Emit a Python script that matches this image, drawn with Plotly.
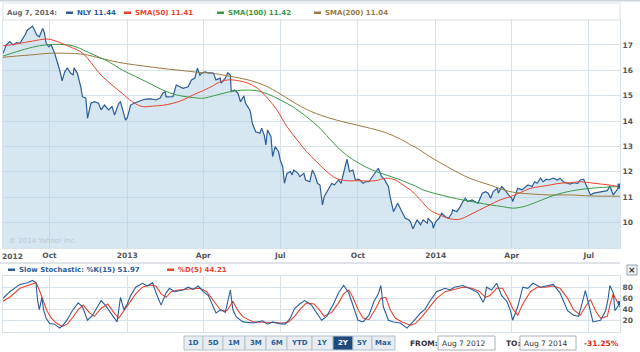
import plotly.graph_objects as go
import pandas as pd

START = pd.Timestamp("2012-08-07")

# ---- NLY close (days since Aug 7 2012, value) ----
nly_days = [0,4,8,12,16,20,26,29,35,40,43,47,49,51,54,57,61,65,67,70,73,76,80,83,84,88,92,94,98,100,
            104,108,113,116,120,125,129,132,137,139,142,145,147,151,155,159,165,169,175,181,186,189,192,193,197,201,205,209,213,219,
            223,227,230,233,235,239,243,247,249,252,257,258,263,266,269,270,274,278,281,285,287,292,293,295,299,304,306,309,311,313,
            317,319,322,326,328,331,333,336,340,342,344,349,351,356,358,363,366,369,372,375,378,380,385,389,392,397,400,403,407,410,
            414,417,421,426,429,433,437,441,444,448,451,456,458,462,467,472,476,480,482,485,490,494,497,502,503,508,509,512,516,519,
            523,527,531,532,537,541,544,547,550,555,559,562,567,571,574,577,580,585,586,590,594,598,602,603,607,609,614,618,621,626,
            629,632,636,639,643,646,651,656,659,663,668,671,675,680,683,687,689,692,695,699,703,707,710,715,718,722,724,727,730]
nly_close = [16.67,17.0,17.13,17.0,17.09,17.06,17.39,17.59,17.74,17.39,17.32,17.65,17.47,17.07,16.93,17.0,16.68,16.29,16.01,15.58,
             15.94,16.09,15.89,15.81,16.1,15.88,15.35,14.96,14.9,14.11,14.7,14.76,14.7,14.44,14.63,14.44,14.57,14.24,14.7,14.76,
             14.37,14.04,14.12,14.63,14.7,14.76,14.83,14.86,14.87,14.83,14.91,15.1,15.16,14.95,14.96,14.96,15.42,15.35,15.29,15.35,
             15.62,15.69,16.08,15.81,15.88,15.94,15.9,15.9,15.88,15.62,15.69,15.49,15.69,15.9,15.81,15.16,15.22,15.09,14.76,14.99,
             14.7,14.44,14.31,13.91,13.58,13.52,13.72,13.45,13.06,13.65,13.39,12.6,12.99,12.8,12.47,12.2,11.55,11.94,12.01,11.88,
             12.07,11.94,11.81,11.94,11.68,11.61,12.07,11.88,11.55,11.48,10.7,11.02,11.29,11.55,11.48,11.68,11.55,11.94,12.5,12.01,
             12.07,11.68,11.71,11.55,11.61,11.61,11.81,12.01,12.14,11.81,11.71,11.42,11.02,10.43,10.76,10.43,10.17,10.11,10.04,9.76,
             10.11,9.91,10.11,9.98,10.17,9.98,9.78,10.04,10.17,10.37,10.24,10.17,10.37,10.5,10.43,10.63,10.83,10.96,10.83,10.89,
             10.83,10.76,11.16,11.22,11.16,10.96,11.22,11.35,11.16,11.42,11.29,11.09,10.96,10.83,11.16,11.35,11.29,11.42,11.48,11.42,
             11.61,11.55,11.75,11.61,11.71,11.68,11.75,11.68,11.75,11.61,11.55,11.52,11.57,11.55,11.68,11.71,11.55,11.29,11.09,11.16,
             11.18,11.22,11.22,11.26,11.44,11.09,11.18,11.29,11.44]

# ---- Moving averages ----
sma50_days = [0,16,35,51,59,71,83,92,100,108,116,129,141,153,165,177,189,201,213,225,237,249,255,266,278,290,301,313,324,336,
              348,359,371,383,394,406,418,430,441,453,464,476,482,494,505,517,529,540,552,564,576,588,600,612,624,636,647,659,671,683,
              695,707,718,730]
sma50 = [16.96,17.04,17.15,17.23,17.19,17.04,16.87,16.73,16.47,16.14,15.81,15.42,15.09,14.76,14.57,14.59,14.62,14.7,14.83,15.03,
         15.2,15.4,15.52,15.62,15.59,15.49,15.29,14.9,14.44,13.78,13.26,12.8,12.4,12.01,11.75,11.65,11.65,11.64,11.65,11.75,
         11.68,11.42,11.29,10.89,10.5,10.3,10.15,10.13,10.3,10.5,10.7,10.89,11.02,11.18,11.35,11.42,11.48,11.55,11.57,11.61,
         11.57,11.52,11.48,11.41]

sma100_days = [0,16,35,51,67,83,95,108,125,141,157,173,189,205,221,237,243,258,274,290,301,313,328,344,359,375,391,406,421,437,
               453,468,482,488,497,513,529,544,561,576,591,603,616,633,647,663,680,695,710,730]
sma100 = [16.56,16.73,16.91,17.0,17.02,16.96,16.8,16.6,16.34,16.01,15.75,15.49,15.22,15.03,14.94,14.9,14.94,15.07,15.19,15.22,
          15.19,15.07,14.83,14.54,14.17,13.72,13.13,12.67,12.34,12.07,11.88,11.71,11.52,11.44,11.29,11.13,11.0,10.89,10.79,10.7,
          10.63,10.57,10.63,10.83,11.02,11.18,11.29,11.35,11.39,11.42]

sma200_days = [0,16,35,55,75,95,116,137,157,177,197,217,237,243,266,290,313,336,359,383,406,429,453,476,482,488,505,529,552,576,
               600,624,647,671,695,730]
sma200 = [16.51,16.56,16.61,16.67,16.67,16.63,16.47,16.31,16.21,16.12,16.04,15.97,15.9,15.9,15.78,15.62,15.35,14.9,14.46,14.15,
          13.94,13.76,13.54,13.19,13.06,12.97,12.6,12.14,11.75,11.48,11.22,11.13,11.09,11.09,11.05,11.04]

# ---- Slow stochastic ----
k_days = [0,8,20,29,35,39,41,43,46,48,51,55,61,67,71,76,82,89,94,100,106,116,121,129,135,139,143,147,151,157,
          165,171,177,181,187,193,197,203,213,219,225,231,237,243,249,252,258,263,269,272,276,284,296,307,313,319,327,334,340,345,
          351,357,365,373,377,383,391,397,403,409,416,420,426,433,439,444,447,450,456,462,470,478,485,494,499,505,513,523,529,534,
          544,552,562,568,570,572,578,584,590,596,600,603,609,615,621,627,636,644,651,659,668,675,681,687,689,693,698,707,713,716,
          718,722,724,727,730]
k_vals = [60,72,85,88,92,88,55,40,62,40,25,15,14,7,12,22,38,52,45,21,30,56,48,30,18,62,40,50,65,80,
          87,82,88,70,48,70,78,72,75,80,76,82,72,65,45,34,40,35,75,40,27,18,16,20,14,18,15,14,25,42,
          50,56,48,30,21,28,50,70,83,70,38,21,18,30,55,68,83,45,21,18,16,7,18,34,40,55,72,78,75,80,
          83,78,70,53,60,80,75,87,65,55,40,21,45,80,78,87,80,82,85,70,38,30,28,62,74,50,18,21,38,60,
          83,70,38,45,51.97]

d_days = [0,8,20,32,39,43,48,52,57,63,70,76,82,89,95,102,108,116,124,131,137,143,149,157,165,173,181,187,193,199,
          207,217,225,233,241,246,252,258,265,272,278,284,296,307,319,330,338,345,351,359,368,375,380,389,397,403,409,414,420,426,
          433,441,447,453,458,464,472,482,488,496,505,513,523,535,544,555,564,571,576,584,591,597,603,609,615,624,632,642,651,659,
          668,675,683,689,695,701,707,715,718,722,726,730]
d_vals = [55,62,78,85,88,75,55,38,25,16,10,14,25,40,48,35,28,42,50,35,25,38,50,68,80,84,82,68,62,72,
          75,76,78,78,72,62,48,38,38,55,38,27,18,18,17,16,18,28,40,52,50,38,28,35,52,68,75,62,40,25,
          22,42,60,62,40,25,18,12,15,28,45,60,72,76,80,78,72,62,65,78,78,62,42,30,50,72,80,80,82,78,
          60,40,30,45,58,38,25,28,48,68,55,44.21]

# x-axis month ticks
tick_dates = ["2012-10-01","2013-01-01","2013-04-01","2013-07-01","2013-10-01","2014-01-01","2014-04-01","2014-07-01"]
tick_text = ["Oct","2013","Apr","Jul","Oct","2014","Apr","Jul"]

def to_dates(days):
    return [START + pd.Timedelta(days=int(d)) for d in days]

W, H = 640, 352
def px(x): return x / W
def py(y): return 1 - y / H

FONT = "DejaVu Sans"
BLUE = "#2b5d98"; RED = "#e8452f"; GREEN = "#3a9a48"; BROWN = "#9c7a40"
GRID = "#d8e2ea"

fig = go.Figure()
nd = to_dates(nly_days)
fig.add_trace(go.Scatter(x=nd, y=nly_close, mode="lines", line=dict(color=BLUE, width=1.2),
                         fill="tozeroy", fillcolor="rgba(175,207,230,0.5)", xaxis="x", yaxis="y"))
fig.add_trace(go.Scatter(x=to_dates(sma200_days), y=sma200, mode="lines", line=dict(color=BROWN, width=1, shape="spline"), xaxis="x", yaxis="y"))
fig.add_trace(go.Scatter(x=to_dates(sma100_days), y=sma100, mode="lines", line=dict(color=GREEN, width=1, shape="spline"), xaxis="x", yaxis="y"))
fig.add_trace(go.Scatter(x=to_dates(sma50_days), y=sma50, mode="lines", line=dict(color=RED, width=1, shape="spline"), xaxis="x", yaxis="y"))
fig.add_trace(go.Scatter(x=[nd[-1]], y=[nly_close[-1]], mode="markers", marker=dict(color=BLUE, size=5, symbol="square"), xaxis="x", yaxis="y"))

kd = to_dates(k_days)
fig.add_trace(go.Scatter(x=to_dates(d_days), y=d_vals, mode="lines", line=dict(color=RED, width=1.1), xaxis="x2", yaxis="y2"))
fig.add_trace(go.Scatter(x=kd, y=k_vals, mode="lines", line=dict(color=BLUE, width=1.1), xaxis="x2", yaxis="y2"))
fig.add_trace(go.Scatter(x=[kd[-1]], y=[k_vals[-1]], mode="markers", marker=dict(color=BLUE, size=4, symbol="square"), xaxis="x2", yaxis="y2"))

xr = ["2012-08-07", "2014-08-07"]
common_x = dict(range=xr, type="date", tickvals=tick_dates, showgrid=True, gridcolor=GRID, gridwidth=1,
                showline=True, linecolor=GRID, mirror=True, zeroline=False, ticks="", automargin=False,
                domain=[px(3), px(620)])
tf = dict(family=FONT, size=7.5, color="#555", weight="bold")
fig.update_layout(
    width=W, height=H, margin=dict(l=0, r=0, t=0, b=0), showlegend=False,
    paper_bgcolor="white", plot_bgcolor="white", hovermode=False,
    xaxis=dict(**common_x, ticktext=tick_text, tickfont=tf, anchor="y"),
    yaxis=dict(domain=[py(248), py(20)], range=[9.0, 17.98], side="right", tickvals=[10,11,12,13,14,15,16,17],
               showgrid=True, gridcolor=GRID, showline=True, linecolor=GRID, mirror=True, zeroline=False,
               ticks="", tickfont=tf, automargin=False, anchor="x"),
    xaxis2=dict(**common_x, ticktext=[""]*len(tick_dates), anchor="y2"),
    yaxis2=dict(domain=[py(332), py(276)], range=[0, 100], side="right", tickvals=[20,40,60,80],
                showgrid=True, gridcolor=GRID, showline=True, linecolor=GRID, mirror=True, zeroline=False,
                ticks="", tickfont=tf, automargin=False, anchor="x2"),
)

shapes = []
ann = []
def rect(x0, y0, x1, y1, fill, line, lw=1):
    shapes.append(dict(type="rect", xref="paper", yref="paper", x0=px(x0), x1=px(x1), y0=py(y1), y1=py(y0),
                       fillcolor=fill, line=dict(color=line, width=lw), layer="above"))
def text(x, y, s, color, size=7, bold=True, anchor="left"):
    ann.append(dict(xref="paper", yref="paper", x=px(x), y=py(y), text=s, showarrow=False,
                    xanchor=anchor, yanchor="middle",
                    font=dict(family=FONT, size=size, color=color, weight="bold" if bold else "normal")))

# top bar + header box
rect(0, 0, 640, 1.5, "#cfd5db", "rgba(0,0,0,0)", 0)
rect(3, 3, 620, 20, "white", "#dde3e8")
text(5, 12.5, "Aug 7, 2014:", "#666")
legend_items = [(66, "NLY 11.44", BLUE), (124, "SMA(50) 11.41", RED), (217, "SMA(100) 11.42", GREEN), (314, "SMA(200) 11.04", BROWN)]
for x0, s, c in legend_items:
    rect(x0, 11.5, x0 + 7, 14, c, c, 0)
    text(x0 + 9, 12.5, s, c)

# separator bar + stochastic header
rect(0, 262, 620, 264, "#dfe3e7", "rgba(0,0,0,0)", 0)
rect(8, 268.5, 15, 271, BLUE, BLUE, 0)
text(17, 270, "Slow Stochastic: %K(15) 51.97", BLUE)
rect(167, 268.5, 174, 271, RED, RED, 0)
text(176, 270, "%D(5) 44.21", RED)
rect(627, 265, 637, 275, "#f2f2f2", "#9aa3ab")
text(632, 270, "×", "#333", size=9, anchor="center")

# x labels extras
text(12, 256, "2012", "#555", size=7.5, anchor="center")
text(7, 241, "© 2014 Yahoo! Inc.", "#b9c7d3", size=7, bold=False)

# range buttons
btns = [("1D",184,203),("5D",203,223),("1M",223,245),("3M",245,266),("6M",266,287),("YTD",287,312),
        ("1Y",312,333),("2Y",333,353),("5Y",353,372),("Max",372,395)]
for lab, a, b in btns:
    sel = lab == "2Y"
    rect(a, 336, b, 350, "#1e4a7c" if sel else "#e8edf2", "#b5c0cb")
    text((a + b) / 2, 343, lab, "white" if sel else "#2b5d98", size=7, anchor="center")

text(408, 343, "FROM:", "#333", size=7.5)
rect(438, 336, 495, 350, "white", "#a9b1b9")
text(440, 343, "Aug 7 2012", "#333", size=7.5, bold=False)
text(504, 343, "TO:", "#333", size=7.5)
rect(520, 336, 576, 350, "white", "#a9b1b9")
text(522, 343, "Aug 7 2014", "#333", size=7.5, bold=False)
text(601, 343, "-31.25%", "#e02b20", size=7.5, anchor="center")

fig.update_layout(shapes=shapes, annotations=ann)
fig.write_html("out.html")
